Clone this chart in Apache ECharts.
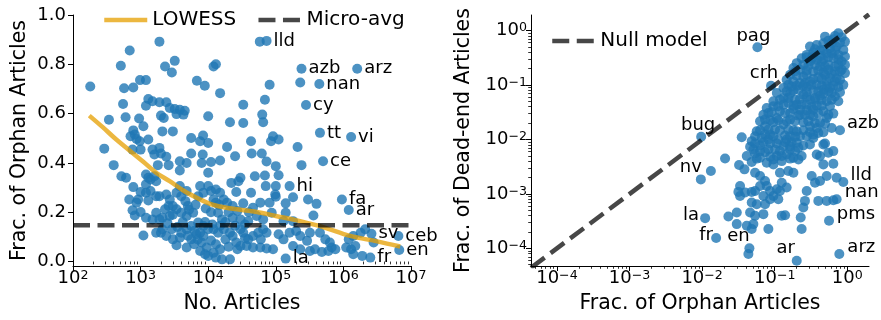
<!DOCTYPE html>
<html>
<head>
<meta charset="utf-8">
<script src="https://cdn.jsdelivr.net/npm/echarts@6/dist/echarts.min.js"></script>
<style>
html,body{margin:0;padding:0;background:#fff;}
#chart{width:881px;height:320px;}
</style>
</head>
<body>
<div id="chart"></div>
<script>
// ================= DATA =================
// Left panel: [number of articles, fraction of orphan articles]
const leftPoints = [
[180,0.71],[690,0.856],[510,0.794],[1900,0.892],[2300,0.791],[3200,0.814],[2900,0.767],[980,0.736],[1200,0.736],[570,0.703],
[780,0.706],[6800,0.733],[8900,0.713],[12000,0.791],[13000,0.80],[15000,0.683],[550,0.639],[600,0.585],[340,0.575],[290,0.458],
[400,0.391],[1300,0.659],[1500,0.65],[1200,0.632],[1900,0.646],[2400,0.646],[2700,0.623],[3200,0.619],[3800,0.616],[4500,0.612],
[4300,0.596],[3400,0.598],[2000,0.592],[2200,0.582],[950,0.58],[1100,0.549],[780,0.532],[820,0.515],[710,0.508],[870,0.497],
[970,0.488],[1300,0.495],[760,0.454],[1000,0.454],[1500,0.454],[1900,0.461],[1600,0.434],[2000,0.438],[2400,0.425],[2600,0.391],
[2100,0.528],[3000,0.528],[10000,0.589],[21000,0.565],[33000,0.562],[33000,0.636],[5600,0.501],[8400,0.511],[7600,0.488],[10000,0.481],
[19000,0.465],[15000,0.41],[8300,0.434],[11000,0.404],[10000,0.36],[3800,0.407],[3800,0.369],[4800,0.40],[5600,0.438],[8000,0.40],
[25000,0.427],[43000,0.488],[44000,0.438],[49000,0.346],[73000,0.406],[69000,0.349],[71000,0.306],[63000,0.596],[65000,0.565],[69000,0.656],
[81000,0.717],[91000,0.508],[85000,0.488],[110000,0.495],[62000,0.438],[210000,0.465],[240000,0.391],[100000,0.387],[58000,0.892],[230000,0.726],
[180000,0.261],[300000,0.252],[400000,0.234],[360000,0.187],[140000,0.236],[140000,0.198],[100000,0.263],[100000,0.306],[110000,0.35],[180000,0.164],
[130000,0.164],
[520,0.346],[610,0.34],[780,0.302],[1200,0.353],[1300,0.34],[1400,0.333],[1600,0.346],[1200,0.313],[1400,0.286],[1700,0.326],
[920,0.252],[1200,0.279],[1300,0.248],[1700,0.265],[1900,0.265],[2400,0.272],[1000,0.282],[680,0.252],[870,0.239],[760,0.208],
[820,0.187],[1000,0.201],[1200,0.178],[1500,0.171],[1700,0.198],[1900,0.171],[2100,0.178],[2700,0.252],[3400,0.279],[3000,0.225],
[4000,0.265],[3800,0.306],[4600,0.245],[5000,0.225],[6000,0.198],[2600,0.225],[2300,0.212],[3400,0.212],[4000,0.198],[4800,0.185],
[2700,0.185],[1100,0.106],[1700,0.117],[2000,0.117],[2400,0.104],[3000,0.09],[3800,0.097],[3400,0.066],[4800,0.057],[5600,0.09],
[6700,0.111],[7600,0.117],[8500,0.104],[8000,0.077],[9500,0.057],[7600,0.043],[9000,0.03],[10000,0.023],[13000,0.016],[16000,0.009],
[21000,0.009],[12000,0.036],[4800,0.131],[5600,0.144],[7100,0.158],[8500,0.144],[10000,0.131],[12000,0.131],[14000,0.117],[17000,0.131],
[21000,0.117],[23000,0.104],[30000,0.131],[33000,0.117],[39000,0.09],[46000,0.104],[55000,0.117],[65000,0.131],[73000,0.117],[26000,0.077],
[30000,0.063],[37000,0.063],[46000,0.057],[59000,0.057],[73000,0.053],[91000,0.05],[7600,0.306],[8500,0.279],[10000,0.306],[11000,0.286],
[13000,0.292],[15000,0.279],[12000,0.252],[13000,0.239],[17000,0.252],[19000,0.239],[22000,0.319],[28000,0.326],[30000,0.34],[26000,0.282],
[23000,0.225],[33000,0.236],[46000,0.218],[59000,0.239],[81000,0.239],[98000,0.272],[14000,0.198],[16000,0.171],[23000,0.178],[30000,0.171],
[39000,0.164],[52000,0.185],[65000,0.171],[87000,0.198],[110000,0.111],[130000,0.09],[160000,0.117],[200000,0.124],[230000,0.104],[290000,0.084],
[320000,0.117],[450000,0.117],[540000,0.09],[630000,0.077],[670000,0.057],[180000,0.063],[230000,0.05],[320000,0.043],[380000,0.05],[480000,0.039],
[600000,0.043],[760000,0.05],[1200000,0.09],[1400000,0.104],[1800000,0.117],[2100000,0.131],[2800000,0.077],[1300000,0.05],[1400000,0.03],[1900000,0.023],
[1100000,0.057],[1500000,0.063],[2100,0.131],[2900,0.131],[4000,0.117],[1800,0.391],[7100,0.265],[4800,0.286],[43000,0.279],
[2500,0.155],[3500,0.14],[4200,0.16],[6300,0.125],[9000,0.16],[11500,0.15],[15000,0.145],[18000,0.16],[25000,0.145],[35000,0.15],
[3000,0.19],[5200,0.21],[6500,0.23],[9200,0.215],[11000,0.2],[14500,0.23],[20000,0.2],[27000,0.205],[40000,0.2],[5000,0.105],
[6200,0.07],[7000,0.09],[11000,0.085],[13000,0.07],[15000,0.05],[18000,0.09],[20000,0.06],[27000,0.05],[35000,0.095],[60000,0.09]
];
// Labelled languages, left panel: [name, articles, orphan fraction]
const leftNamed = [
['lld',73000,0.895],['azb',240000,0.782],['nan',440000,0.72],['cy',280000,0.635],['tt',450000,0.522],
['arz',1600000,0.782],['vi',1300000,0.505],['ce',500000,0.407],['hi',160000,0.306],['fa',950000,0.252],
['ar',1200000,0.209],['la',140000,0.012],['sv',2600000,0.113],['fr',2500000,0.016],['ceb',6500000,0.104],['en',6700000,0.047]
];
// LOWESS curve
const lowessArticles = [174,275,437,1096,1698,2692,4467,7586,11220,18620,52480,100000,229000,501000,1260000,3160000,6920000];
const lowessOrphan   = [0.592,0.545,0.495,0.405,0.36,0.326,0.285,0.252,0.232,0.218,0.201,0.185,0.164,0.14,0.104,0.082,0.061];
// Micro-average orphan fraction
const microAvg = 0.147;

// Right panel: [fraction orphan, fraction dead-end]
const rightPoints = [
[0.752,0.894],[0.836,0.755],[0.642,0.694],[0.548,0.656],[0.929,0.629],[0.468,0.586],[0.379,0.547],[0.306,0.510],[0.713,0.510],[0.577,0.475],
[0.881,0.443],[0.421,0.431],[0.340,0.396],[0.276,0.359],[0.520,0.385],[0.752,0.359],[0.235,0.312],[0.642,0.312],[0.468,0.299],[0.379,0.291],
[0.306,0.271],[0.836,0.271],[0.201,0.253],[0.248,0.235],[0.548,0.235],[0.421,0.220],[0.676,0.220],[0.181,0.205],[0.223,0.191],[0.276,0.185],
[0.340,0.178],[0.468,0.171],[0.793,0.178],[0.609,0.161],[0.163,0.155],[0.201,0.148],[0.248,0.144],[0.399,0.140],[0.146,0.125],[0.181,0.117],
[0.306,0.117],[0.520,0.117],[0.676,0.117],[0.223,0.109],[0.379,0.101],[0.444,0.0973],[0.171,0.0946],[0.276,0.0919],[0.752,0.0919],[0.132,0.0881],
[0.212,0.0822],[0.340,0.0798],[0.548,0.0766],[0.107,0.0714],[0.163,0.0694],[0.248,0.0665],[0.421,0.0638],[0.676,0.0621],[0.132,0.0578],[0.191,0.0539],
[0.306,0.0539],[0.0959,0.0503],[0.520,0.0503],[0.154,0.0469],[0.235,0.0437],[0.379,0.0419],[0.112,0.0407],[0.0776,0.0380],[0.181,0.0364],[0.276,0.0344],
[0.468,0.0330],[0.0910,0.0316],[0.139,0.0307],[0.642,0.0299],[0.0698,0.0286],[0.212,0.0275],[0.340,0.0267],[0.107,0.0249],[0.163,0.0232],[0.0863,0.0226],
[0.0628,0.0216],[0.248,0.0207],[0.421,0.0202],[0.132,0.0188],[0.0736,0.0175],[0.306,0.0175],[0.609,0.0163],[0.101,0.0152],[0.181,0.0148],[0.0565,0.0142],
[0.468,0.0136],[0.0863,0.0123],[0.139,0.0118],[0.223,0.0115],[0.0351,0.0110],[0.0662,0.0107],[0.340,0.0107],[0.112,0.0100],[0.0482,0.00933],[0.171,0.00893],
[0.0863,0.00845],[0.0628,0.00777],[0.248,0.00777],[0.132,0.00755],[0.0458,0.00734],[0.101,0.00656],[0.191,0.00612],[0.0736,0.00587],[0.0536,0.00555],[0.146,0.00532],
[0.107,0.00496],[0.235,0.00496],[0.0412,0.00496],[0.0628,0.00462],[0.0959,0.00431],[0.125,0.00401],[0.0482,0.00385],[0.181,0.00462],[0.0776,0.00374],[0.421,0.00496],
[0.548,0.00570],[0.642,0.00359],[0.468,0.00349],[0.493,0.00845],[0.642,0.00612],[0.0207,0.00449],[0.0323,0.00339],[0.0383,0.00283],[0.0536,0.00245],[0.0628,0.00213],
[0.118,0.00245],[0.154,0.00264],[0.181,0.00245],[0.0959,0.00349],[0.323,0.00213],[0.421,0.00173],[0.520,0.00213],[0.713,0.00199],[0.0333,0.00140],[0.0316,0.00109],
[0.0391,0.00106],[0.0482,0.00109],[0.0536,0.00113],[0.0628,0.00140],[0.0736,0.00173],[0.0776,0.00140],[0.0863,0.00113],[0.107,0.00122],[0.125,0.00161],[0.118,0.00113],
[0.146,0.00131],[0.0698,0.000919],[0.0863,0.000798],[0.0959,0.000919],[0.112,0.000798],[0.0482,0.000694],[0.0565,0.000647],[0.0736,0.000647],[0.0333,0.000919],[0.0300,0.000456],
[0.0458,0.000456],[0.0536,0.000396],[0.0698,0.000425],[0.125,0.000396],[0.139,0.000407],[0.0230,0.000385],[0.0300,0.000279],[0.0412,0.000260],[0.0508,0.000279],[0.0482,0.000226],
[0.0818,0.000226],[0.228,0.000369],[0.235,0.000226],[0.248,0.000562],[0.261,0.000745],[0.276,0.00113],[0.399,0.000745],[0.520,0.000745],[0.642,0.000766],[0.0434,0.0000787],
[0.0132,0.00264],[0.359,0.00161],[0.379,0.00532],[0.340,0.0123],[0.468,0.00811],
[0.359,0.235],[0.609,0.385],[0.261,0.109],[0.468,0.0822],[0.359,0.0539],[0.201,0.0437],[0.261,0.0286],[0.520,0.0249],[0.146,0.0100],[0.201,0.0142],
[0.379,0.0163],[0.112,0.0226],[0.493,0.155],[0.713,0.134],[0.276,0.155],[0.201,0.0973],[0.118,0.0539],[0.223,0.0354],[0.340,0.0354],[0.163,0.00755],
[0.0818,0.0100],[0.836,0.191],[0.577,0.0881],[0.323,0.312],[0.444,0.271],
[0.493,0.776],[0.676,0.798],[0.609,0.586],[0.793,0.603],[0.359,0.456],[0.468,0.443],[0.676,0.431],[0.276,0.325],[0.340,0.335],[0.421,0.344],
[0.548,0.325],[0.752,0.299],[0.929,0.335],[0.290,0.226],[0.493,0.220],[0.752,0.235],[0.929,0.235],[0.191,0.178],[0.399,0.185],[0.548,0.191],
[0.676,0.178],[0.929,0.166],[0.340,0.129],[0.444,0.129],[0.577,0.134],[0.793,0.125],[0.154,0.101],[0.248,0.0973],[0.323,0.101],[0.520,0.0946],
[0.642,0.0973],[0.881,0.101],[0.146,0.0766],[0.181,0.0798],[0.276,0.0737],[0.399,0.0766],[0.468,0.0694],[0.609,0.0714],[0.793,0.0737],[0.154,0.0578],
[0.223,0.0556],[0.276,0.0604],[0.359,0.0578],[0.444,0.0539],[0.609,0.0539],[0.752,0.0503],[0.0959,0.0407],[0.132,0.0437],[0.181,0.0419],[0.276,0.0437],
[0.323,0.0395],[0.444,0.0419],[0.577,0.0407],[0.0818,0.0307],[0.118,0.0330],[0.163,0.0307],[0.223,0.0286],[0.306,0.0286],[0.399,0.0299],[0.548,0.0286],
[0.0736,0.0232],[0.0959,0.0207],[0.146,0.0216],[0.191,0.0216],[0.290,0.0216],[0.359,0.0202],[0.493,0.0196],[0.0628,0.0148],[0.0818,0.0152],[0.118,0.0148],
[0.154,0.0152],[0.248,0.0148],[0.306,0.0136],[0.399,0.0132],[0.0536,0.0115],[0.0736,0.0123],[0.0959,0.0115],[0.163,0.0115],[0.191,0.0112],[0.276,0.0115],
[0.0536,0.00845],[0.0698,0.00893],[0.107,0.00845],[0.139,0.00893],[0.201,0.00870],[0.306,0.00812],[0.0508,0.00656],[0.0628,0.00612],[0.0818,0.00656],[0.118,0.00612],
[0.163,0.00656],[0.212,0.00705],[0.0565,0.00446],[0.0863,0.00482],[0.125,0.00496],[0.163,0.00446],[0.212,0.00431]
];
// Labelled languages, right panel: [name, orphan fraction, dead-end fraction]
const rightNamed = [
['pag',0.0577,0.496],['crh',0.089,0.0973],['bug',0.0097,0.0112],['nv',0.0096,0.00185],['la',0.011,0.000359],
['fr',0.0156,0.000155],['en',0.0448,0.0001],['ar',0.201,0.0000594],['arz',0.776,0.0000787],['azb',0.793,0.0148],
['lld',0.881,0.00166],['nan',0.713,0.000798],['pms',0.56,0.000321]
];
// Axis ranges and ticks
const leftXRange = [100, 1e7];
const leftYRange = [-0.018, 1.0];
const rightXRange = [4.39e-5, 1.99];
const rightYRange = [4.74e-5, 1.94];
const leftXTicks = [1e2,1e3,1e4,1e5,1e6,1e7];
const leftYTicks = [0,0.2,0.4,0.6,0.8,1.0];
const rightTicks = [1e-4,1e-3,1e-2,1e-1,1];

// ================= STYLE =================
const F = 'DejaVu Sans';
const BLACK = '#000';
const POINT_COLOR = '#1f77b4';
const POINT_OPACITY = 0.8;
const LOWESS_COLOR = 'rgba(230,159,0,0.75)';
const DASH_COLOR = 'rgba(0,0,0,0.72)';
const DASH = [17, 7.5];
const LINE_W = 4.5;
const rightLabelOffset = {
  pag:[-4,-11], crh:[-7,-12], bug:[-3,-12], nv:[-10,-12], la:[-14,-3], fr:[-10,-3],
  en:[-11,-12], ar:[-11,-12], arz:[22,-7], azb:[23,-7], lld:[18,-7], nan:[25,-7], pms:[27,-6]
};

function powLabel(v){
  const e = Math.round(Math.log10(v));
  return '{b|10}{s|' + (e < 0 ? '\u2212' + (-e) : String(e)) + '}';
}
const powRich = {
  b:{fontFamily:F, fontSize:18, color:BLACK, lineHeight:18, padding:[4,0,0,0], verticalAlign:'bottom'},
  s:{fontFamily:F, fontSize:12.6, color:BLACK, lineHeight:13, verticalAlign:'top'}
};
function minorTicks(lo, hi){
  const out = [];
  for (let e = Math.floor(Math.log10(lo)); e <= Math.ceil(Math.log10(hi)); e++) {
    for (let k = 2; k <= 9; k++) {
      const v = k * Math.pow(10, e);
      if (v >= lo && v <= hi) out.push(v);
    }
  }
  return out;
}
const lineSt = {color:BLACK, width:1};
const nameStyle = {fontFamily:F, fontSize:20.5, color:BLACK};
const labelText = {fontFamily:F, fontSize:18, color:BLACK, opacity:1, textBorderWidth:0};

function majorAxis(o){
  return Object.assign({
    axisLine:{show:true, onZero:false, lineStyle:lineSt},
    splitLine:{show:false},
    minorTick:{show:false}, minorSplitLine:{show:false},
    nameLocation:'middle', nameTextStyle:nameStyle
  }, o);
}
function minorAxis(o){
  return Object.assign({
    axisLine:{show:false},
    axisLabel:{show:false},
    splitLine:{show:false}
  }, o);
}

const chart = echarts.init(document.getElementById('chart'), null, {renderer:'canvas'});

const leftData = leftPoints.map(p => ({value:p}))
  .concat(leftNamed.map(r => ({name:r[0], value:[r[1], r[2]], label:{show:true}})));
const rightData = rightPoints.map(p => ({value:p}))
  .concat(rightNamed.map(r => ({name:r[0], value:[r[1], r[2]],
    label:{show:true, position:'inside', offset:rightLabelOffset[r[0]]}})));

const legendCommon = {
  padding:0, itemWidth:43, itemHeight:20, selectedMode:false,
  itemStyle:{opacity:0, borderWidth:0},
  lineStyle:{width:LINE_W},
  textStyle:{fontFamily:F, fontSize:20, color:BLACK}
};

const option = {
  animation:false,
  backgroundColor:'#fff',
  textStyle:{fontFamily:F},
  grid:[
    {left:73, top:15, width:338, height:251, outerBoundsMode:'none', containLabel:false},
    {left:531, top:15, width:338, height:251, outerBoundsMode:'none', containLabel:false}
  ],
  legend:[
    Object.assign({data:['LOWESS','Micro-avg'], left:102, top:10, itemGap:20}, legendCommon),
    Object.assign({data:['Null model'], left:550, top:31}, legendCommon)
  ],
  xAxis:[
    majorAxis({type:'log', logBase:10, gridIndex:0, min:leftXRange[0], max:leftXRange[1], position:'bottom',
      axisTick:{show:true, length:5, customValues:leftXTicks, lineStyle:lineSt},
      axisLabel:{show:true, customValues:leftXTicks, formatter:powLabel, rich:powRich, margin:3, color:BLACK},
      name:'No. Articles', nameGap:27}),
    minorAxis({type:'log', logBase:10, gridIndex:0, min:leftXRange[0], max:leftXRange[1], position:'bottom',
      axisTick:{show:true, length:2.8, customValues:minorTicks(leftXRange[0], leftXRange[1]), lineStyle:{color:BLACK, width:0.8}}}),
    majorAxis({type:'log', logBase:10, gridIndex:1, min:rightXRange[0], max:rightXRange[1], position:'bottom',
      axisTick:{show:true, length:5, customValues:rightTicks, lineStyle:lineSt},
      axisLabel:{show:true, customValues:rightTicks, formatter:powLabel, rich:powRich, margin:3, color:BLACK},
      name:'Frac. of Orphan Articles', nameGap:27}),
    minorAxis({type:'log', logBase:10, gridIndex:1, min:rightXRange[0], max:rightXRange[1], position:'bottom',
      axisTick:{show:true, length:2.8, customValues:minorTicks(rightXRange[0], rightXRange[1]), lineStyle:{color:BLACK, width:0.8}}})
  ],
  yAxis:[
    majorAxis({type:'value', gridIndex:0, min:leftYRange[0], max:leftYRange[1], position:'left',
      axisTick:{show:true, length:5, customValues:leftYTicks, lineStyle:lineSt},
      axisLabel:{show:true, customValues:leftYTicks, formatter:v => v.toFixed(1), fontFamily:F, fontSize:18, color:BLACK, margin:7},
      name:'Frac. of Orphan Articles', nameGap:43}),
    majorAxis({type:'log', logBase:10, gridIndex:1, min:rightYRange[0], max:rightYRange[1], position:'left',
      axisTick:{show:true, length:5, customValues:rightTicks, lineStyle:lineSt},
      axisLabel:{show:true, customValues:rightTicks, formatter:powLabel, rich:powRich, margin:4, color:BLACK},
      name:'Frac. of Dead-end Articles', nameGap:57}),
    minorAxis({type:'log', logBase:10, gridIndex:1, min:rightYRange[0], max:rightYRange[1], position:'left',
      axisTick:{show:true, length:2.8, customValues:minorTicks(rightYRange[0], rightYRange[1]), lineStyle:{color:BLACK, width:0.8}}})
  ],
  series:[
    {type:'scatter', name:'languages', xAxisIndex:0, yAxisIndex:0, data:leftData,
     symbol:'circle', symbolSize:10, itemStyle:{color:POINT_COLOR, opacity:POINT_OPACITY}, emphasis:{disabled:true}, z:2,
     label:Object.assign({show:false, position:'right', distance:2, formatter:'{b}'}, labelText)},
    {type:'line', name:'LOWESS', xAxisIndex:0, yAxisIndex:0,
     data:lowessArticles.map((n, i) => [n, lowessOrphan[i]]), smooth:0.35, symbol:'none', z:3,
     lineStyle:{color:LOWESS_COLOR, width:LINE_W}, itemStyle:{color:LOWESS_COLOR}, emphasis:{disabled:true}},
    {type:'line', name:'Micro-avg', xAxisIndex:0, yAxisIndex:0,
     data:[[leftXRange[0], microAvg], [leftXRange[1], microAvg]], symbol:'none', z:3,
     lineStyle:{color:DASH_COLOR, width:LINE_W, type:DASH}, itemStyle:{color:DASH_COLOR}, emphasis:{disabled:true}},
    {type:'scatter', name:'languages2', xAxisIndex:2, yAxisIndex:1, data:rightData,
     symbol:'circle', symbolSize:10, itemStyle:{color:POINT_COLOR, opacity:POINT_OPACITY}, emphasis:{disabled:true}, z:2,
     label:Object.assign({show:false, formatter:'{b}'}, labelText)},
    {type:'line', name:'Null model', xAxisIndex:2, yAxisIndex:1,
     data:[[rightXRange[0], rightXRange[0]], [rightXRange[1], rightXRange[1]]], symbol:'none', z:3,
     lineStyle:{color:DASH_COLOR, width:LINE_W, type:DASH}, itemStyle:{color:DASH_COLOR}, emphasis:{disabled:true}}
  ]
};
chart.setOption(option);
</script>
</body>
</html>
